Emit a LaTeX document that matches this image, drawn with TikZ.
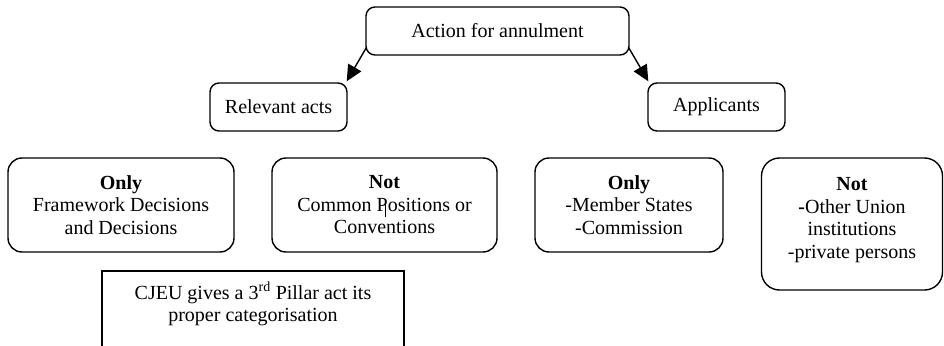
\documentclass[tikz,border=0pt]{standalone}
\usepackage{fontspec}
\setmainfont{Liberation Serif}
\usetikzlibrary{arrows.meta}
\begin{document}
\begin{tikzpicture}[x=1pt,y=-1pt,
  every node/.style={font=\fontsize{20}{22.5}\selectfont, align=center, inner sep=0pt},
  rbox/.style={draw, line width=1.4pt, rounded corners=#1},
  rbox/.default=9pt,
  sbox/.style={draw, line width=1.4pt},
  arr/.style={line width=1.4pt, -{Triangle[length=16pt,width=15pt]}}]
\useasboundingbox (0,0) rectangle (944,345);
\clip (0,0) rectangle (944,345);
% boxes
\node[rbox, minimum width=263pt, minimum height=48pt] (top) at (497.5,31) {Action for annulment};
\node[rbox, minimum width=137pt, minimum height=48pt] (rel) at (278.5,107) {Relevant acts};
\node[rbox, minimum width=137pt, minimum height=48pt] (app) at (716.5,107) {Applicants};
\node[rbox=14pt, minimum width=226pt, minimum height=94pt] (only1) at (121,205) {\textbf{Only}\\Framework Decisions\\and Decisions};
\node[rbox=14pt, minimum width=225pt, minimum height=94pt] (not1) at (384.5,205) {\textbf{Not}\\Common Positions or\\Conventions};
\node[rbox=14pt, minimum width=188pt, minimum height=94pt] (only2) at (629,205) {\textbf{Only}\\-Member States\\-Commission};
\node[rbox=18pt, minimum width=181pt, minimum height=132pt] (not2) at (852,224) {};
\node at (852,220) {\textbf{Not}\\\textbf{-}Other Union\\institutions\\-private persons};
\node[sbox, minimum width=302pt, minimum height=100pt] (cjeu) at (253,321) {};
\node at (253,304) {CJEU gives a 3\textsuperscript{rd} Pillar act its\\proper categorisation};
% stray cursor mark
\draw[line width=0.9pt] (385,199) -- (385,217);
% arrows
\draw[arr] ([xshift=1pt,yshift=8pt]top.south west) -- ([xshift=-1pt,yshift=1pt]rel.north east);
\draw[arr] ([xshift=-1pt,yshift=8pt]top.south east) -- ([xshift=1pt,yshift=1pt]app.north west);
\end{tikzpicture}
\end{document}
